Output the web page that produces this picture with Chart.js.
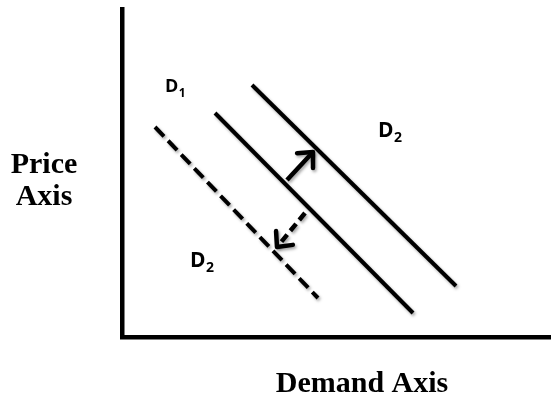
<!DOCTYPE html>
<html>
<head>
<meta charset="utf-8">
<script src="https://cdn.jsdelivr.net/npm/chart.js@4/dist/chart.umd.min.js"></script>
<style>
  html, body { margin: 0; padding: 0; background: #fff; }
  #wrap { width: 551px; height: 401px; position: relative; }
</style>
</head>
<body>
<div id="wrap"><canvas id="chart" width="551" height="401"></canvas></div>
<script>
// --- diagram data (quantity on x, price on y, arbitrary units) ---
const demandShifted = [[130, 252], [334, 51]];   // right-hand solid line
const demandOriginal = [[93, 224], [291, 24]];   // D1
const demandFallen = [[33, 210], [196, 39]];     // dashed line
const arrowUp = [[165, 157], [191, 185]];
const arrowDown = [[183, 124], [155, 90]];

const curveLabels = [
  { main: 'D', sub: '1', x: 43, y: 245, size: 18 },
  { main: 'D', sub: '2', x: 256, y: 200, size: 21 },
  { main: 'D', sub: '2', x: 68, y: 70, size: 21 }
];
const xAxisTitle = 'Demand Axis';
const yAxisTitle = ['Price', 'Axis'];

const toPoints = arr => arr.map(p => ({ x: p[0], y: p[1] }));

function lineSet(arr, dash, width) {
  return {
    data: toPoints(arr),
    showLine: true,
    borderColor: '#000',
    borderWidth: width || 4,
    borderDash: dash || [],
    borderCapStyle: 'butt',
    pointRadius: 0,
    fill: false
  };
}

// drop shadow under the drawn lines, like the original slide graphic
const shadowPlugin = {
  id: 'shadow',
  beforeDatasetsDraw(chart) {
    const ctx = chart.ctx;
    ctx.save();
    ctx.shadowColor = 'rgba(0,0,0,0.35)';
    ctx.shadowBlur = 3;
    ctx.shadowOffsetX = 1.5;
    ctx.shadowOffsetY = 2;
  },
  afterDatasetsDraw(chart) {
    chart.ctx.restore();
  }
};

// arrowheads (open chevrons) at the end of each arrow
const arrowHeads = {
  id: 'arrowHeads',
  afterDatasetsDraw(chart) {
    const ctx = chart.ctx;
    const xs = chart.scales.x, ys = chart.scales.y;
    [arrowUp, arrowDown].forEach(a => {
      const x0 = xs.getPixelForValue(a[0][0]), y0 = ys.getPixelForValue(a[0][1]);
      const x1 = xs.getPixelForValue(a[1][0]), y1 = ys.getPixelForValue(a[1][1]);
      const ang = Math.atan2(y1 - y0, x1 - x0);
      const len = 16, spread = Math.PI / 4.2;
      ctx.save();
      ctx.shadowColor = 'rgba(0,0,0,0.35)';
      ctx.shadowBlur = 3;
      ctx.shadowOffsetX = 1.5;
      ctx.shadowOffsetY = 2;
      ctx.strokeStyle = '#000';
      ctx.lineWidth = 4.5;
      ctx.lineCap = 'round';
      ctx.lineJoin = 'round';
      ctx.beginPath();
      ctx.moveTo(x1 - len * Math.cos(ang - spread), y1 - len * Math.sin(ang - spread));
      ctx.lineTo(x1, y1);
      ctx.lineTo(x1 - len * Math.cos(ang + spread), y1 - len * Math.sin(ang + spread));
      ctx.stroke();
      ctx.restore();
    });
  }
};

// curve labels with subscripts + the axis captions
const textPlugin = {
  id: 'texts',
  afterDraw(chart) {
    const ctx = chart.ctx;
    const xs = chart.scales.x, ys = chart.scales.y;
    ctx.save();
    ctx.fillStyle = '#000';
    ctx.textBaseline = 'alphabetic';
    curveLabels.forEach(l => {
      const px = xs.getPixelForValue(l.x), py = ys.getPixelForValue(l.y);
      ctx.textAlign = 'left';
      ctx.font = 'bold ' + l.size + 'px "Open Sans", sans-serif';
      ctx.fillText(l.main, px, py);
      const w = ctx.measureText(l.main).width;
      ctx.font = 'bold ' + Math.round(l.size * 0.68) + 'px "Open Sans", sans-serif';
      ctx.fillText(l.sub, px + w + 0.5, py + 5);
    });

    ctx.font = 'bold 30px "Liberation Serif", "Times New Roman", serif';
    ctx.textAlign = 'center';
    ctx.fillText(yAxisTitle[0], 44, 173);
    ctx.fillText(yAxisTitle[1], 44, 205);
    ctx.fillText(xAxisTitle, 362, 392);
    ctx.restore();
  }
};

const axisStyle = (min, max) => ({
  type: 'linear',
  min: min,
  max: max,
  ticks: { display: false },
  grid: { display: false, drawTicks: false },
  border: { display: true, color: '#000', width: 4.5 }
});

new Chart(document.getElementById('chart'), {
  type: 'scatter',
  data: {
    datasets: [
      lineSet(demandShifted),
      lineSet(demandOriginal),
      lineSet(demandFallen, [13, 6]),
      lineSet(arrowUp, [], 4.5),
      lineSet(arrowDown, [9, 5], 4.5)
    ]
  },
  options: {
    responsive: false,
    animation: false,
    layout: { padding: { left: 122, top: 9, right: 0, bottom: 64 } },
    plugins: {
      legend: { display: false },
      tooltip: { enabled: false }
    },
    scales: {
      x: axisStyle(0, 429),
      y: axisStyle(0, 328)
    }
  },
  plugins: [shadowPlugin, arrowHeads, textPlugin]
});
</script>
</body>
</html>
